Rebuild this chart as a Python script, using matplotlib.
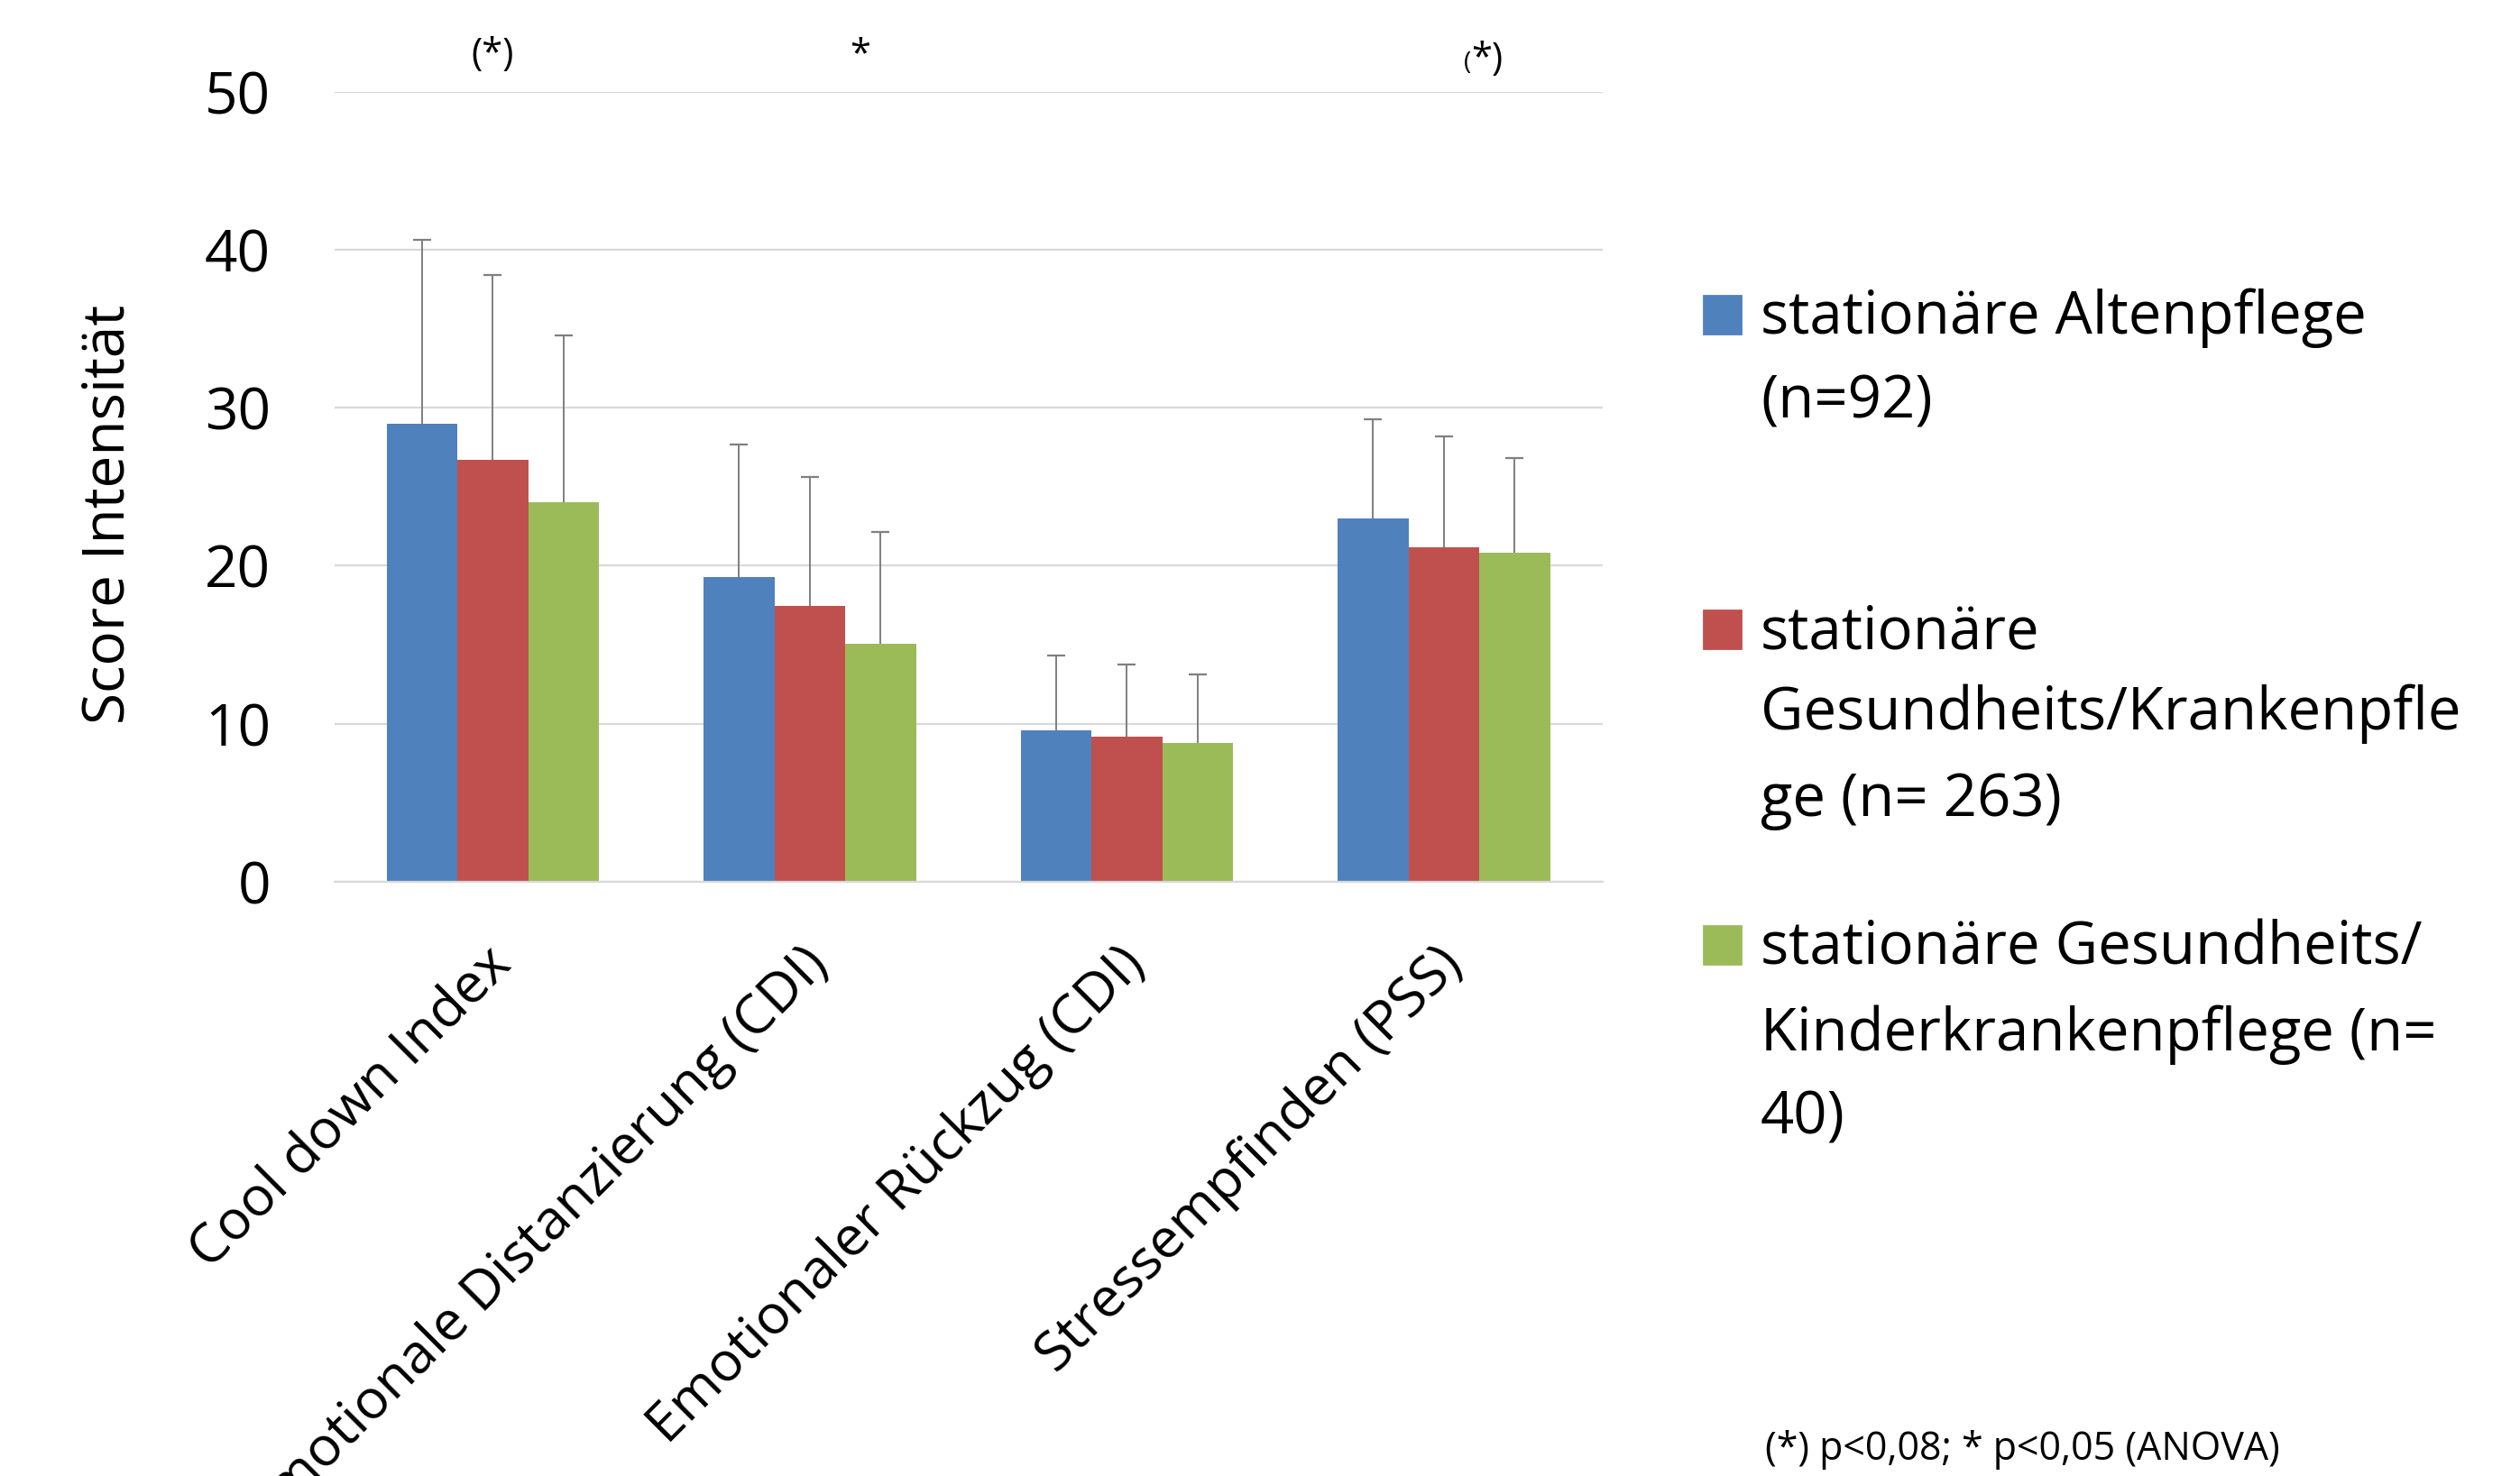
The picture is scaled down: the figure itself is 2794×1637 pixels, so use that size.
import matplotlib
matplotlib.use("Agg")
import matplotlib.pyplot as plt
import matplotlib.transforms as mtransforms
from matplotlib.patches import Rectangle
import numpy as np

plt.rcParams['font.family'] = ['Open Sans', 'DejaVu Sans']

# ---- data ----
categories = ["Cool down Index", "Emotionale Distanzierung (CDI)",
              "Emotionaler Rückzug (CDI)", "Stressempfinden (PSS)"]
series_names = ["stationäre Altenpflege\n(n=92)",
                "stationäre\nGesundheits/Krankenpfle\nge (n= 263)",
                "stationäre Gesundheits/\nKinderkrankenpflege (n=\n40)"]
mean_alten = [29.0, 19.3, 9.6, 23.0]
mean_kranken = [26.7, 17.45, 9.2, 21.15]
mean_kinder = [24.0, 15.05, 8.8, 20.85]
sd_alten = [11.6, 8.35, 4.7, 6.25]
sd_kranken = [11.7, 8.15, 4.55, 7.05]
sd_kinder = [10.6, 7.1, 4.3, 5.95]
yticks = [0, 10, 20, 30, 40, 50]
footnote = "(*) p<0,08; * p<0,05 (ANOVA)"

colors = ["#4F81BD", "#C0504D", "#9BBB59"]
W, H, DPI = 2794, 1637, 200
fig = plt.figure(figsize=(W / DPI, H / DPI), dpi=DPI)
ax = fig.add_axes([370.7 / W, 1 - 978 / H, (1776.7 - 370.7) / W, (978 - 101.6) / H])

x = np.arange(len(categories))
bw = 0.2234
means = [mean_alten, mean_kranken, mean_kinder]
sds = [sd_alten, sd_kranken, sd_kinder]
for i, (m, s) in enumerate(zip(means, sds)):
    xs = x + (i - 1) * bw
    ax.bar(xs, m, width=bw, color=colors[i], zorder=2, linewidth=0)
    eb = ax.errorbar(xs, m, yerr=[np.zeros(len(s)), s], fmt='none',
                     ecolor="#7f7f7f", elinewidth=0.7, capsize=3.5, capthick=0.8, zorder=3)
    for cl in eb[1]:
        if np.allclose(np.asarray(cl.get_ydata(), dtype=float), np.asarray(m, dtype=float)):
            cl.set_visible(False)

ax.set_xlim(-0.5, 3.5)
ax.set_ylim(0, 50)
ax.set_yticks(yticks)
ax.yaxis.grid(True, color="#d9d9d9", linewidth=0.8, zorder=0)
ax.set_axisbelow(True)
for sp in ["top", "right", "left"]:
    ax.spines[sp].set_visible(False)
ax.spines["bottom"].set_color("#d9d9d9")
ax.spines["bottom"].set_linewidth(0.8)
ax.tick_params(axis='y', length=0, pad=25.4, labelsize=23)
ax.tick_params(axis='x', length=0, pad=22)
ax.set_xticks(x)
ax.set_xticklabels(categories, rotation=45, ha='right', va='top',
                   rotation_mode='anchor', fontsize=22)
off = mtransforms.ScaledTranslation(-3.7 / 72, 0, fig.dpi_scale_trans)
for lab in ax.get_xticklabels():
    lab.set_transform(lab.get_transform() + off)

ax.set_ylabel("Score Intensität", fontsize=23)
ax.yaxis.label.set_va('center')
ax.yaxis.set_label_coords(-0.178, 0.4656)

# significance markers
base = 51.69
ax.text(0.0, base, "(*)", ha='center', va='baseline', fontsize=15, clip_on=False)
ax.text(1.158, base, "*", ha='center', va='baseline', fontsize=15, clip_on=False)
ax.text(3.087, base - 0.3, "(", ha='right', va='baseline', fontsize=10, clip_on=False)
ax.text(3.087, base - 0.3, "*)", ha='left', va='baseline', fontsize=15, clip_on=False)

# legend (manual, Excel-like layout)
baselines = [[370, 463], [719, 809, 905], [1069, 1165, 1258]]
for i, name in enumerate(series_names):
    lines = name.split("\n")
    b0 = baselines[i][0]
    fig.patches.append(Rectangle((1889 / W, 1 - b0 / H), 41 / W, 42 / H,
                                 transform=fig.transFigure, color=colors[i]))
    for ln, b in zip(lines, baselines[i]):
        fig.text(1952 / W, 1 - b / H, ln, ha='left', va='baseline', fontsize=23.5)

fig.text(1957 / W, 1 - 1608 / H, footnote, ha='left', va='center', fontsize=15.5)

fig.savefig("out.png", dpi=DPI, facecolor="white")
